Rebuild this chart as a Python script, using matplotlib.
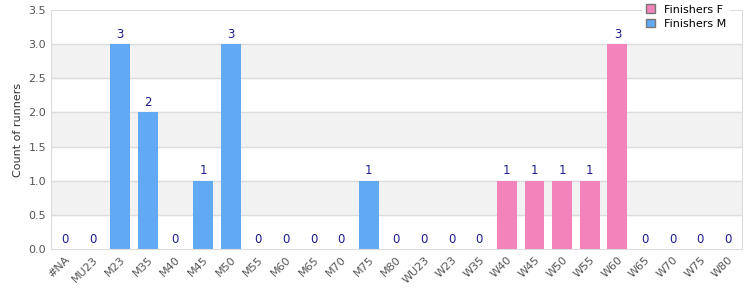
import numpy as np
import matplotlib.pyplot as plt

categories = ["#NA", "MU23", "M23", "M35", "M40", "M45", "M50", "M55", "M60", "M65",
              "M70", "M75", "M80", "WU23", "W23", "W35", "W40", "W45", "W50", "W55",
              "W60", "W65", "W70", "W75", "W80"]
counts_m = [0, 0, 3, 2, 0, 1, 3, 0, 0, 0, 0, 1, 0, 0, 0, 0, 0, 0, 0, 0, 0, 0, 0, 0, 0]
counts_f = [0, 0, 0, 0, 0, 0, 0, 0, 0, 0, 0, 0, 0, 0, 0, 0, 1, 1, 1, 1, 3, 0, 0, 0, 0]

col_f = "#f283bb"
col_m = "#61a9f3"

fig = plt.figure(figsize=(7.5, 3), dpi=100)
ax = fig.add_axes([0.068, 0.17, 0.921, 0.797])

x = np.arange(len(categories))
total = np.array(counts_m) + np.array(counts_f)

# background bands
for y0 in [0.5, 1.5, 2.5]:
    ax.axhspan(y0, y0 + 0.5, color="#f2f2f2", zorder=0)
for y0 in np.arange(0.5, 3.5, 0.5):
    ax.axhline(y0, color="#dddddd", lw=1, zorder=1)

ax.bar(x, counts_f, width=0.72, color=col_f, label="Finishers F", zorder=2)
ax.bar(x, counts_m, width=0.72, color=col_m, label="Finishers M", zorder=2)

for xi, v in zip(x, total):
    ax.text(xi, v + 0.05, str(v), ha="center", va="bottom", fontsize=8.5, color="#1c1c8c")

ax.set_xlim(-0.5, len(categories) - 0.5)
ax.set_ylim(0, 3.5)
ax.set_yticks(np.arange(0, 3.51, 0.5))
ax.set_yticklabels([f"{v:.1f}" for v in np.arange(0, 3.51, 0.5)])
ax.set_xticks(x)
ax.set_xticklabels(categories, rotation=45, ha="right", rotation_mode="anchor")
ax.tick_params(axis="both", labelsize=8, colors="#555555", length=0)
ax.tick_params(axis="x", pad=4)
ax.set_ylabel("Count of runners", fontsize=8, color="#333333")

for s in ["left", "right", "bottom", "top"]:
    ax.spines[s].set_color("#dddddd")

leg = ax.legend(loc="upper right", bbox_to_anchor=(0.99, 1.06), fontsize=8,
                frameon=True, fancybox=False, edgecolor="white", facecolor="white",
                framealpha=1, handlelength=0.8, handleheight=0.8, borderpad=0.3,
                labelspacing=0.4)
for h in leg.legend_handles:
    h.set_edgecolor("#777777")
leg.set_zorder(5)

fig.savefig("out.png")
